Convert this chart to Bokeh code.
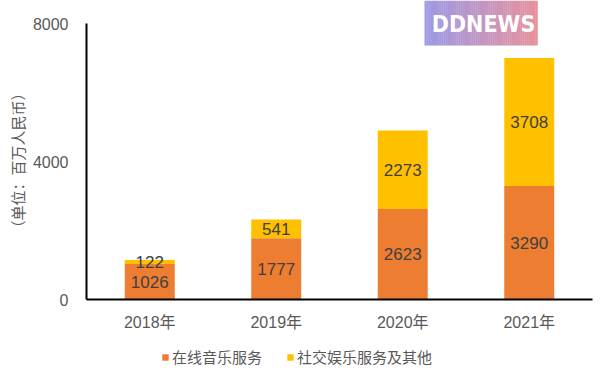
import math
from bokeh.plotting import figure
from bokeh.models import ColumnDataSource, Range1d, FixedTicker, Legend, LegendItem
from bokeh.core.properties import value
from bokeh.embed import file_html
from bokeh.resources import INLINE

years = ["2018年", "2019年", "2020年", "2021年"]
music = [1026, 1777, 2623, 3290]
social = [122, 541, 2273, 3708]
series_names = ["在线音乐服务", "社交娱乐服务及其他"]
colors = ["#ED7D31", "#FFC000"]
y_ticks = [0, 4000, 8000]
y_label = "（单位：百万人民币）"
logo_text = "DDNEWS"

FONT = "Liberation Sans, Noto Sans CJK SC"
W, H = 600, 378
# pixel geometry of the axes box inside the canvas
ax_left, ax_right, ax_top, ax_bottom = 86, 592, 23, 299
ymax = 8000
n_cat = len(years)
ux = (ax_right - ax_left) / n_cat          # px per category
uy = (ax_bottom - ax_top) / ymax           # px per value unit
x0 = -ax_left / ux
x1 = (W - ax_left) / ux
y1 = ymax + ax_top / uy
y0 = -(H - ax_bottom) / uy

def sx(px):
    return (px - ax_left) / ux

def sy(py):
    return (ax_bottom - py) / uy

p = figure(width=W, height=H, x_range=Range1d(x0, x1), y_range=Range1d(y0, y1),
           output_backend="svg", toolbar_location=None,
           min_border=0, min_border_left=0, min_border_right=0,
           min_border_top=0, min_border_bottom=0)
p.outline_line_color = None
p.background_fill_color = "white"
p.border_fill_color = "white"
p.xgrid.grid_line_color = None
p.ygrid.grid_line_color = None

xs = [i + 0.5 for i in range(n_cat)]
src = ColumnDataSource(dict(x=xs, music=music, social=social))
rs = p.vbar_stack(["music", "social"], x="x", width=0.395, color=colors,
                  line_color=None, source=src)

# value labels
lx, ly, lt = [], [], []
for xv, m, s in zip(xs, music, social):
    lx += [xv, xv]
    ly += [m / 2, m + s / 2]
    lt += [str(m), str(s)]
p.text(x=lx, y=ly, text=lt, text_align="center", text_baseline="middle",
       text_font_size="17px", text_color="#404040", text_font=value(FONT))

# axes
p.xaxis.ticker = FixedTicker(ticks=xs)
p.xaxis.major_label_overrides = {xv: yr for xv, yr in zip(xs, years)}
p.xaxis.fixed_location = 0
p.xaxis.bounds = (0, n_cat)
p.yaxis.ticker = FixedTicker(ticks=y_ticks)
p.yaxis.fixed_location = 0
p.yaxis.bounds = (0, ymax)
for ax in (p.xaxis[0], p.yaxis[0]):
    ax.axis_line_width = 2
    ax.axis_line_color = "#000000"
    ax.major_tick_line_color = None
    ax.minor_tick_line_color = None
    ax.major_label_text_font_size = "16px"
    ax.major_label_text_color = "#595959"
    ax.major_label_text_font = FONT
p.yaxis.major_label_standoff = 12
p.xaxis.major_label_standoff = 8

# y axis title
p.text(x=[sx(18)], y=[sy(160)], text=[y_label], angle=math.pi / 2,
       text_align="center", text_baseline="middle", text_font_size="15px",
       text_color="#595959", text_font=value(FONT))

# legend
legend = Legend(items=[LegendItem(label=n, renderers=[r]) for n, r in zip(series_names, rs)],
                orientation="horizontal", location=(161, 11),
                glyph_width=8, glyph_height=8, label_standoff=3, spacing=24,
                label_text_font_size="15px", label_text_color="#595959",
                label_text_font=FONT, border_line_color=None,
                background_fill_alpha=0, margin=0, padding=4)
p.add_layout(legend, "center")

# logo (decoration)
lx0, lx1 = sx(424), sx(537)
ly1, ly0 = sy(0), sy(45)
n = 60
c0, c1 = (155, 153, 230), (231, 145, 156)
L, R, Cc = [], [], []
for i in range(n):
    t = i / (n - 1)
    col = tuple(int(round(a + (b - a) * t)) for a, b in zip(c0, c1))
    L.append(lx0 + (lx1 - lx0) * i / n)
    R.append(lx0 + (lx1 - lx0) * (i + 1) / n + 0.002)
    Cc.append("#%02x%02x%02x" % col)
p.quad(left=L, right=R, top=[ly1] * n, bottom=[ly0] * n, color=Cc, line_color=None)
p.text(x=[sx(483)], y=[sy(23)], text=[logo_text],
       text_align="center", text_baseline="middle", text_font_size="23px",
       text_font_style="bold", text_color="white",
       text_font=value("DejaVu Sans Condensed, Roboto"))

open("out.html", "w").write(file_html(p, INLINE))
